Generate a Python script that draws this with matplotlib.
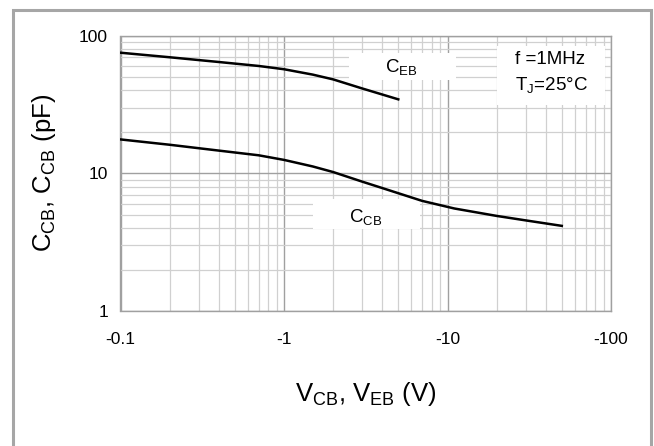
import numpy as np
import matplotlib
matplotlib.use('Agg')
import matplotlib.pyplot as plt
from matplotlib.patches import Rectangle
from matplotlib.ticker import FixedLocator, NullFormatter

plt.rcParams['font.family'] = ['Liberation Sans', 'DejaVu Sans']

# --- veri (|V| in volt, C in pF) ---
v_eb = [0.1, 0.2, 0.4, 0.7, 1.0, 1.5, 2.0, 3.0, 5.0]
c_eb = [75.0, 69.5, 64.2, 60.1, 56.9, 52.0, 48.0, 41.3, 34.4]

v_cb = [0.1, 0.2, 0.4, 0.7, 1.0, 1.5, 2.0, 3.0, 4.0, 7.0, 11.0, 20.0, 30.0, 50.0]
c_cb = [17.6, 16.1, 14.6, 13.5, 12.5, 11.2, 10.2, 8.7, 7.8, 6.3, 5.55, 4.9, 4.55, 4.15]

x_ticks = [0.1, 1, 10, 100]
x_tick_labels = ['-0.1', '-1', '-10', '-100']
y_ticks = [1, 10, 100]
y_tick_labels = ['1', '10', '100']

fig = plt.figure(figsize=(6.54, 4.46), dpi=100)
ax = fig.add_axes([120.5 / 654, 1 - 311 / 446, (611 - 120.5) / 654, (311 - 35.5) / 446])

# dış çerçeve
fig.patches.append(Rectangle((12.5 / 654, -0.05), (651 - 12.5) / 654, 1.05 - 10 / 446,
                             transform=fig.transFigure, fill=False,
                             edgecolor='#a6a6a6', linewidth=2.2))

ax.set_xscale('log')
ax.set_yscale('log')
ax.set_xlim(0.1, 100)
ax.set_ylim(1, 100)

minor_x = [m * d for d in [0.1, 1, 10] for m in range(2, 10)]
minor_y = [m * d for d in [1, 10] for m in range(2, 10)]
ax.xaxis.set_major_locator(FixedLocator(x_ticks))
ax.yaxis.set_major_locator(FixedLocator(y_ticks))
ax.xaxis.set_minor_locator(FixedLocator(minor_x))
ax.yaxis.set_minor_locator(FixedLocator(minor_y))
ax.xaxis.set_minor_formatter(NullFormatter())
ax.yaxis.set_minor_formatter(NullFormatter())
ax.set_xticklabels(x_tick_labels)
ax.set_yticklabels(y_tick_labels)

ax.grid(True, which='major', color='#a0a0a0', linewidth=1.0)
ax.grid(True, which='minor', color='#d0d0d0', linewidth=0.9)
ax.set_axisbelow(True)
ax.tick_params(which='both', length=0, labelsize=12.5)
ax.tick_params(axis='x', pad=15)
ax.tick_params(axis='y', pad=9)
for sp in ax.spines.values():
    sp.set_color('#a0a0a0')
    sp.set_linewidth(1.0)

# etiketlerin beyaz kutuları (eksen kesri)
for (x0, y0, x1, y1) in [(0.466, 0.838, 0.684, 0.936),
                         (0.768, 0.748, 0.988, 0.962),
                         (0.392, 0.298, 0.611, 0.407)]:
    ax.add_patch(Rectangle((x0, y0), x1 - x0, y1 - y0, transform=ax.transAxes,
                           facecolor='white', edgecolor='none', zorder=2))

ax.plot(v_eb, c_eb, color='black', linewidth=1.8, zorder=3)
ax.plot(v_cb, c_cb, color='black', linewidth=1.8, zorder=3)

ax.text(5.2, 58, r'C$_{\mathregular{EB}}$', fontsize=13.5, ha='center', va='center', zorder=4)
ax.text(3.17, 4.78, r'C$_{\mathregular{CB}}$', fontsize=13.5, ha='center', va='center', zorder=4)
ax.text(25.7, 53, 'f =1MHz\n' + r'T$_{\mathregular{J}}$=25°C', fontsize=13.5, ha='left', va='center',
        linespacing=1.45, zorder=4)

ax.set_xlabel(r'V$_{\mathregular{CB}}$, V$_{\mathregular{EB}}$ (V)', fontsize=18.5, labelpad=24)
ax.set_ylabel(r'C$_{\mathregular{CB}}$, C$_{\mathregular{CB}}$ (pF)', fontsize=18.5, labelpad=15)

fig.savefig('out.png', dpi=100)
